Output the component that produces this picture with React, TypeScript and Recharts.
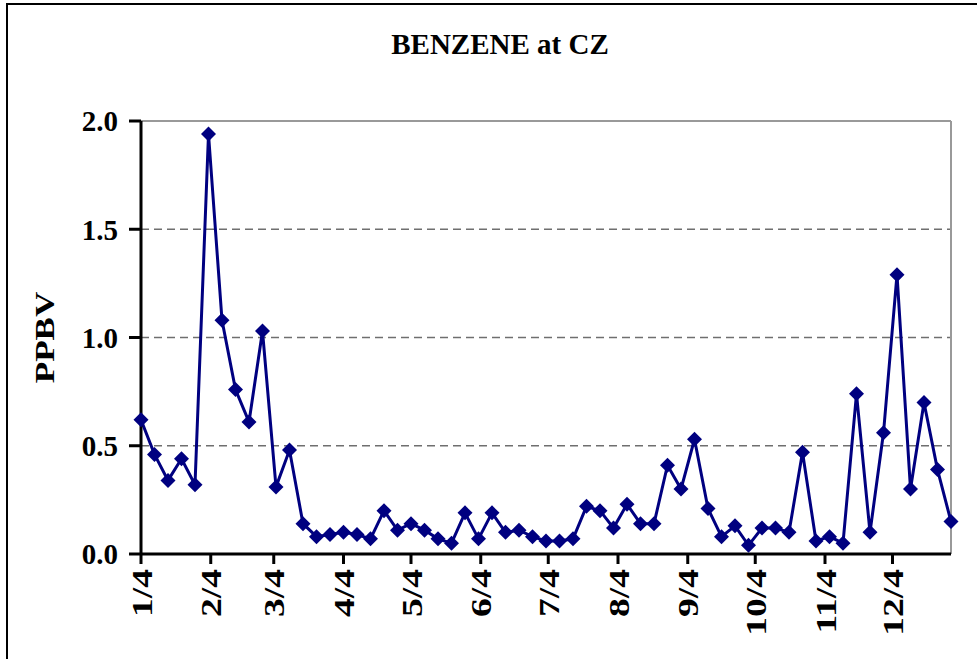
import { LineChart, Line, XAxis, YAxis, ReferenceLine } from 'recharts'

// sampling day (days after 1/4), one sample every 6 days
const sampleDays = [
  0, 6, 12, 18, 24, 30, 36, 42, 48, 54, 60, 66, 72, 78, 84, 90, 96, 102, 108, 114,
  120, 126, 132, 138, 144, 150, 156, 162, 168, 174, 180, 186, 192, 198, 204, 210,
  216, 222, 228, 234, 240, 246, 252, 258, 264, 270, 276, 282, 288, 294, 300, 306,
  312, 318, 324, 330, 336, 342, 348, 354, 360,
]

// benzene, ppbv
const benzene = [
  0.62, 0.46, 0.34, 0.44, 0.32, 1.94, 1.08, 0.76, 0.61, 1.03, 0.31, 0.48, 0.14, 0.08,
  0.09, 0.1, 0.09, 0.07, 0.2, 0.11, 0.14, 0.11, 0.07, 0.05, 0.19, 0.07, 0.19, 0.1,
  0.11, 0.08, 0.06, 0.06, 0.07, 0.22, 0.2, 0.12, 0.23, 0.14, 0.14, 0.41, 0.3, 0.53,
  0.21, 0.08, 0.13, 0.04, 0.12, 0.12, 0.1, 0.47, 0.06, 0.08, 0.05, 0.74, 0.1, 0.56,
  1.29, 0.3, 0.7, 0.39, 0.15,
]

const monthTickDays = [0, 31, 59, 90, 120, 151, 181, 212, 243, 273, 304, 334]
const monthLabels = ['1/4', '2/4', '3/4', '4/4', '5/4', '6/4', '7/4', '8/4', '9/4', '10/4', '11/4', '12/4']

const yTicks = [0, 0.5, 1, 1.5, 2]
const dashedLevels = [0.5, 1, 1.5]

const chartData = sampleDays.map((day, i) => ({ day, ppbv: benzene[i] }))

const FONT = '"Liberation Serif", "Times New Roman", serif'
const NAVY = '#000080'

function Diamond(props: any) {
  const { cx, cy } = props
  if (cx == null || cy == null) return null
  const r = 7.5
  return (
    <polygon
      points={`${cx},${cy - r} ${cx + r},${cy} ${cx},${cy + r} ${cx - r},${cy}`}
      fill={NAVY}
    />
  )
}

// rotated text in the original is drawn a bit stretched along its run
function MonthTick({ x, y, payload }: any) {
  const i = monthTickDays.indexOf(payload.value)
  return (
    <g transform={`translate(${x},${y}) rotate(-90) scale(1.25,1)`}>
      <text
        x={0}
        y={0}
        dy="0.35em"
        textAnchor="end"
        fontFamily={FONT}
        fontWeight="bold"
        fontSize={30}
        fill="#000"
      >
        {monthLabels[i]}
      </text>
    </g>
  )
}

function PpbvLabel({ viewBox }: any) {
  const x = 44
  const y = viewBox.y + viewBox.height / 2
  return (
    <g transform={`translate(${x},${y}) rotate(-90) scale(1.25,1)`}>
      <text
        x={0}
        y={0}
        dy="0.35em"
        textAnchor="middle"
        fontFamily={FONT}
        fontWeight="bold"
        fontSize={28}
        fill="#000"
      >
        PPBV
      </text>
    </g>
  )
}

export default function App() {
  return (
    <div
      style={{
        position: 'absolute',
        left: 0,
        top: 0,
        width: 977,
        height: 659,
        overflow: 'hidden',
        background: '#fff',
      }}
    >
      {/* chart frame, right/bottom edges fall outside the picture */}
      <div
        style={{
          position: 'absolute',
          left: 6,
          top: 3,
          width: 1000,
          height: 700,
          border: '2px solid #000',
        }}
      />
      <div
        style={{
          position: 'absolute',
          left: 0,
          width: 1000,
          top: 26,
          textAlign: 'center',
          fontFamily: FONT,
          fontWeight: 'bold',
          fontSize: 29,
          lineHeight: '36px',
        }}
      >
        BENZENE at CZ
      </div>
      <div style={{ position: 'absolute', left: 0, top: 0 }}>
        <LineChart
          width={977}
          height={659}
          data={chartData}
          margin={{ top: 121, right: 26, bottom: 10, left: 0 }}
        >
          {dashedLevels.map((v) => (
            <ReferenceLine key={v} y={v} stroke="#6f6f6f" strokeWidth={1.5} strokeDasharray="8 5" />
          ))}
          <ReferenceLine y={2} stroke="#999" strokeWidth={2} />
          <ReferenceLine x={360} stroke="#999" strokeWidth={2} />
          <XAxis
            dataKey="day"
            type="number"
            domain={[0, 360]}
            ticks={monthTickDays}
            interval={0}
            height={95}
            tickSize={10}
            tickMargin={5}
            axisLine={{ stroke: '#000', strokeWidth: 3 }}
            tickLine={{ stroke: '#000', strokeWidth: 3 }}
            tick={<MonthTick />}
          />
          <YAxis
            type="number"
            domain={[0, 2]}
            ticks={yTicks}
            interval={0}
            width={141}
            tickSize={12}
            tickMargin={11}
            tickFormatter={(v: number) => v.toFixed(1)}
            axisLine={{ stroke: '#000', strokeWidth: 3 }}
            tickLine={{ stroke: '#000', strokeWidth: 3 }}
            tick={{ fill: '#000', fontFamily: FONT, fontWeight: 'bold', fontSize: 29 }}
            label={{ content: <PpbvLabel /> }}
          />
          <Line
            type="linear"
            dataKey="ppbv"
            stroke={NAVY}
            strokeWidth={3}
            dot={(p: any) => <Diamond key={p.index} {...p} />}
            activeDot={false}
            isAnimationActive={false}
          />
        </LineChart>
      </div>
    </div>
  )
}
